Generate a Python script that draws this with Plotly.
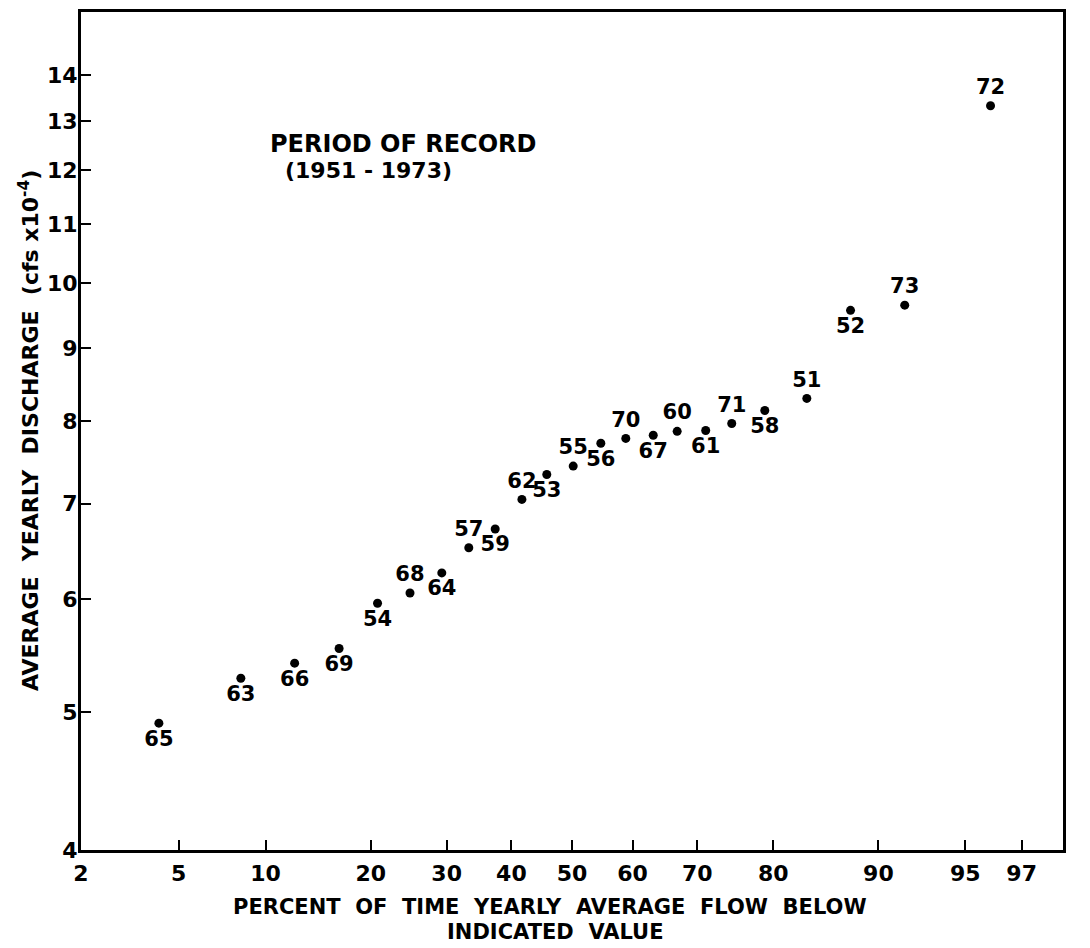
from statistics import NormalDist
import math
import plotly.graph_objects as go

# ---- data ----
years = ["65", "63", "66", "69", "54", "68", "64", "57", "59", "62", "53", "55",
         "56", "70", "67", "60", "61", "71", "58", "51", "52", "73", "72"]
percent_below = [4.2, 8.3, 12.3, 16.5, 20.8, 24.9, 29.3, 33.3, 37.4, 41.7, 45.8, 50.2,
                 54.8, 58.9, 63.3, 67.0, 71.2, 74.8, 79.0, 83.7, 87.8, 91.8, 96.0]
discharge = [4.91, 5.28, 5.41, 5.54, 5.96, 6.06, 6.26, 6.52, 6.72, 7.05, 7.34, 7.44,
             7.72, 7.78, 7.82, 7.87, 7.88, 7.97, 8.14, 8.30, 9.57, 9.65, 13.32]
labels_above = {"68", "57", "62", "55", "70", "60", "71", "51", "73", "72"}

x_tick_labels = [2, 5, 10, 20, 30, 40, 50, 60, 70, 80, 90, 95, 97]
y_tick_labels = [4, 5, 6, 7, 8, 9, 10, 11, 12, 13, 14]

# normal-probability scale for the x axis
nd = NormalDist()
def prob(p):
    return nd.inv_cdf(p / 100.0)

xs = [prob(p) for p in percent_below]
text_pos = ["top center" if y in labels_above else "bottom center" for y in years]

FONT = "DejaVu Sans"

fig = go.Figure()
fig.add_trace(go.Scatter(
    x=xs, y=discharge, mode="markers+text",
    text=years, textposition=text_pos,
    textfont=dict(family=FONT, size=21, color="black", weight="bold"),
    marker=dict(color="black", size=9),
    showlegend=False, cliponaxis=False,
))

fig.update_xaxes(
    range=[prob(2), prob(98)],
    tickvals=[prob(p) for p in x_tick_labels],
    ticktext=[str(p) for p in x_tick_labels],
    ticks="inside", ticklen=10, tickwidth=2, tickcolor="black",
    showline=True, linewidth=3, linecolor="black", mirror=True,
    showgrid=False, zeroline=False,
    tickfont=dict(family=FONT, size=22, color="black", weight="bold"),
    ticklabelstandoff=2,
)
fig.update_yaxes(
    type="log",
    range=[math.log10(4), math.log10(15.5)],
    tickvals=y_tick_labels,
    ticktext=[str(v) for v in y_tick_labels],
    ticks="inside", ticklen=10, tickwidth=2, tickcolor="black",
    showline=True, linewidth=3, linecolor="black", mirror=True,
    showgrid=False, zeroline=False,
    tickfont=dict(family=FONT, size=22, color="black", weight="bold"),
    ticklabelstandoff=-4,
)

ann_font = dict(family=FONT, color="black", weight="bold")
fig.update_layout(
    width=1090, height=948,
    margin=dict(l=81, r=27, t=9, b=98),
    paper_bgcolor="white", plot_bgcolor="white",
    annotations=[
        dict(text="PERIOD OF RECORD", xref="paper", yref="paper", x=0.1904, y=0.843,
             xanchor="left", yanchor="middle", showarrow=False, font=dict(size=24, **ann_font)),
        dict(text="(1951 - 1973)", xref="paper", yref="paper", x=0.2057, y=0.811,
             xanchor="left", yanchor="middle", showarrow=False, font=dict(size=22, **ann_font)),
        dict(text="PERCENT\u00a0 OF\u00a0 TIME\u00a0 YEARLY\u00a0 AVERAGE\u00a0 FLOW\u00a0 BELOW",
             xref="paper", yref="paper", x=0.4776, y=-0.068,
             xanchor="center", yanchor="middle", showarrow=False, font=dict(size=21, **ann_font)),
        dict(text="INDICATED\u00a0 VALUE", xref="paper", yref="paper", x=0.4827, y=-0.0975,
             xanchor="center", yanchor="middle", showarrow=False, font=dict(size=21, **ann_font)),
        dict(text="AVERAGE\u00a0 YEARLY\u00a0 DISCHARGE\u00a0 (cfs x10<sup>-4</sup>)",
             xref="paper", yref="paper", x=-0.053, y=0.501, textangle=-90,
             xanchor="center", yanchor="middle", showarrow=False, font=dict(size=22, **ann_font)),
    ],
)

fig.write_html("out.html")
